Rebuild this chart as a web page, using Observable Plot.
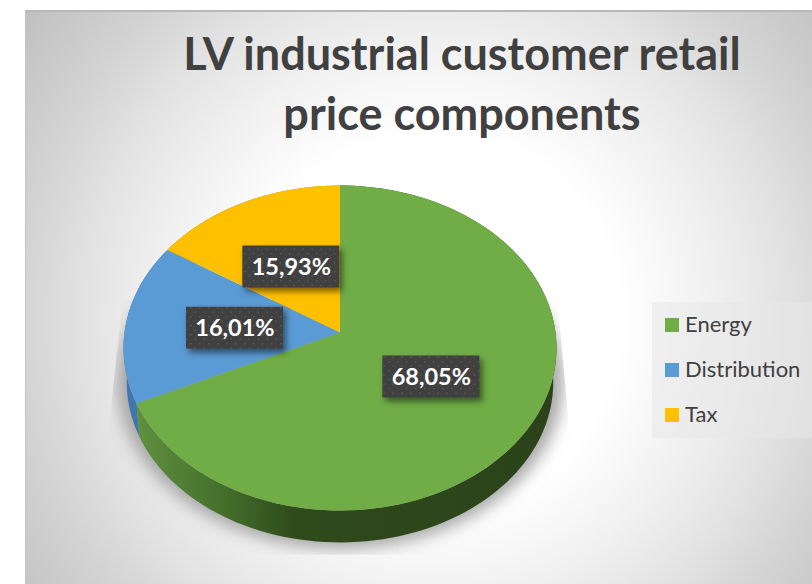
<!DOCTYPE html>
<html>
<head>
<meta charset="utf-8">
<script src="https://cdn.jsdelivr.net/npm/d3@7"></script>
<script src="https://cdn.jsdelivr.net/npm/@observablehq/plot@0.6"></script>
<style>
  html, body { margin: 0; padding: 0; background: #fff; }
  #root { position: relative; width: 812px; height: 584px; overflow: hidden; font-family: Lato, sans-serif; }
  #panel { position: absolute; left: 25px; top: 10px; width: 787px; height: 574px; box-sizing: border-box;
    border-top: 2px solid #b8b8b8; border-left: 1px solid #c4c4c4;
    background: radial-gradient(circle 520px at 52% 54%, #ffffff 0%, #ffffff 36%, #f0f0f0 54%, #e3e3e3 67%, #d3d3d3 80%, #bfbfbf 100%); }
  #title { position: absolute; left: 112px; top: 23px; width: 700px; text-align: center; color: #404040;
    font-weight: 700; font-size: 45px; line-height: 60px; white-space: nowrap; }
  #plot { position: absolute; left: 0; top: 0; }
  #legend { position: absolute; left: 652px; top: 302px; width: 160px; height: 136px; background: rgba(232,232,232,.55); }
  #legend .row { position: absolute; left: 13px; height: 30px; display: flex; align-items: center; color: #404040; font-size: 22px; white-space: nowrap; }
  #legend .sw { width: 14px; height: 14px; margin-right: 6px; flex: none; }
  #legend span { position: relative; top: -2px; }
</style>
</head>
<body>
<div id="root">
  <div id="panel"></div>
  <div id="plot"></div>
  <div id="title">LV industrial customer retail<br>price components</div>
  <div id="legend"></div>
</div>
<script>
const categories = ["Energy", "Distribution", "Tax"];
const shares = [68.05, 16.01, 15.93];
const shareLabels = ["68,05%", "16,01%", "15,93%"];
const colors = ["#70AD47", "#5B9BD5", "#FFC000"];

// Perspective of the tilted disc
const tilt = 0.0954;
const depthShift = 0.215, depthScale = 0.985;
const total = d3.sum(shares);
const toAngle = v => (v / total) * 2 * Math.PI;
function project(theta, r = 1) {
  const u = r * Math.sin(theta), v = r * Math.cos(theta), w = 1 + tilt * v;
  return [u / w, v / w];
}
let acc = 0;
const slices = categories.map((name, i) => {
  const a0 = toAngle(acc), a1 = toAngle(acc + shares[i]);
  acc += shares[i];
  return { name, a0, a1, label: shareLabels[i], mid: (a0 + a1) / 2 };
});
const arcAngles = s => d3.range(0, 121).map(k => s.a0 + (s.a1 - s.a0) * k / 120);

const topPoints = slices.flatMap(s => [
  { name: s.name, p: [0, 0] },
  ...arcAngles(s).map(t => ({ name: s.name, p: project(t) }))
]);
const sidePoints = name => slices.filter(s => s.name === name).flatMap(s => {
  const arc = arcAngles(s).map(t => project(t));
  const low = arc.slice().reverse().map(([x, y]) => [x * depthScale, y * depthScale - depthShift]);
  return [...arc, ...low].map(p => ({ name: s.name, p }));
});
const shadowPoints = d3.range(0, 181).map(k => {
  const [x, y] = project(k / 180 * 2 * Math.PI, 1.03);
  return { p: [x, y - 0.2] };
});
const labelDrop = 1 / 161;
const labels = slices.map(s => {
  const [x, y] = project(s.mid, 0.49);
  return { x, y: y - labelDrop, label: s.label };
});
const boxW = 48.5 / 215.5, boxH = 21 / 161;

const chart = Plot.plot({
  width: 812, height: 584,
  marginTop: 0, marginRight: 0, marginBottom: 0, marginLeft: 0,
  style: { background: "transparent", overflow: "visible" },
  x: { domain: [-1, 1], range: [124, 555], axis: null },
  y: { domain: [-1, 1], range: [493, 171], axis: null },
  color: { domain: categories, range: colors },
  marks: [
    Plot.line(shadowPoints, { x: d => d.p[0], y: d => d.p[1], fill: "#a6a6a6", stroke: null, imageFilter: "blur(8px)" }),
    Plot.line(sidePoints("Tax"), { x: d => d.p[0], y: d => d.p[1], fill: "#b38600", stroke: null }),
    Plot.line(sidePoints("Distribution"), { x: d => d.p[0], y: d => d.p[1], fill: "#3f77ad", stroke: null }),
    Plot.line(sidePoints("Energy"), { x: d => d.p[0], y: d => d.p[1], fill: "url(#energySide)", stroke: null }),
    Plot.line(topPoints, { x: d => d.p[0], y: d => d.p[1], z: "name", fill: "name", stroke: null }),
    Plot.rect(labels, {
      x1: d => d.x - boxW, x2: d => d.x + boxW, y1: d => d.y - boxH, y2: d => d.y + boxH,
      fill: "url(#labelDots)", imageFilter: "drop-shadow(3px 4px 3px rgba(0,0,0,.5))"
    }),
    Plot.text(labels, { x: "x", y: "y", text: "label", fill: "#fff", fontFamily: "Lato, sans-serif", fontWeight: 700, fontSize: 23.5 })
  ]
});

// Gradient and pattern fills, and the soft shadow's clip built from the scales
const X = chart.scale("x"), Y = chart.scale("y");
const clipCorners = [[-1.01, 0.2], [1.01, 0.2], [1.067, -0.65], [1.067, -1.38], [-1.077, -1.38], [-1.077, -0.65]];
const clipD = "M" + clipCorners.map(([a, b]) => `${X.apply(a)},${Y.apply(b)}`).join("L") + "Z";
const defs = d3.select(chart).append("defs");
const grad = defs.append("linearGradient").attr("id", "energySide");
[["0%", "#5f9140"], ["20%", "#45702c"], ["38%", "#2f4a1b"], ["100%", "#2b421a"]].forEach(([o, c]) =>
  grad.append("stop").attr("offset", o).attr("stop-color", c));
const pat = defs.append("pattern").attr("id", "labelDots").attr("patternUnits", "userSpaceOnUse").attr("width", 9).attr("height", 9);
pat.append("rect").attr("width", 9).attr("height", 9).attr("fill", "#404040");
pat.append("rect").attr("x", 1).attr("y", 1).attr("width", 1.4).attr("height", 1.4).attr("fill", "#5a5a5a");
pat.append("rect").attr("x", 5.5).attr("y", 5.5).attr("width", 1.4).attr("height", 1.4).attr("fill", "#5a5a5a");
defs.append("clipPath").attr("id", "shadowClip").append("path").attr("d", clipD);
d3.select(chart).select('g[filter^="blur"]').attr("clip-path", "url(#shadowClip)");
document.getElementById("plot").append(chart);

// Legend
const legend = d3.select("#legend");
categories.forEach((name, i) => {
  const row = legend.append("div").attr("class", "row").style("top", (8 + i * 45) + "px");
  row.append("div").attr("class", "sw").style("background", colors[i]);
  row.append("span").text(name);
});
</script>
</body>
</html>
